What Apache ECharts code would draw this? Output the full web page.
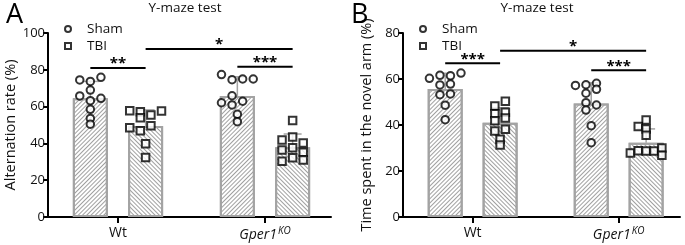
<!DOCTYPE html>
<html>
<head>
<meta charset="utf-8">
<script src="https://cdn.jsdelivr.net/npm/echarts@6/dist/echarts.min.js"></script>
<style>
  html, body { margin: 0; padding: 0; background: #fff; }
  #chart { width: 685px; height: 245px; }
</style>
</head>
<body>
<div id="chart"></div>
<script>
// groups on the x axis (value axis, group i sits at x = i + 1)
const groups = ['Wt', 'Gper1']
const groupX = [1, 2]

// panel A: alternation rate (%)
const aShamMean = [64.5, 65.8]
const aShamSD = [9.2, 10.4]
const aTbiMean = [49.5, 37.9]
const aTbiSD = [8.7, 7.2]
const aShamWt = [74.5, 73.7, 75.9, 69.0, 65.8, 63.2, 64.5, 58.5, 53.6, 50.4]
const aShamWtCol = [-1, 0, 1, 0, -1, 0, 1, 0, 0, 0]
const aTbiWt = [57.8, 57.2, 54.0, 55.4, 57.6, 48.5, 46.9, 49.6, 39.8, 32.4]
const aTbiWtCol = [-1.5, -0.5, -0.5, 0.5, 1.5, -1.5, -0.5, 0.5, 0, 0]
const aShamKo = [77.4, 74.6, 75.0, 75.0, 65.9, 62.1, 60.9, 62.9, 55.8, 51.8]
const aShamKoCol = [-1.5, -0.5, 0.5, 1.5, -0.5, -1.5, -0.5, 0.5, 0, 0]
const aTbiKo = [52.5, 41.8, 43.5, 40.2, 36.4, 37.7, 35.2, 30.3, 32.2, 31.0]
const aTbiKoCol = [0, -1, 0, 1, -1, 0, 1, -1, 0, 1]
// brackets: bar index 0 Wt-Sham, 1 Wt-TBI, 2 KO-Sham, 3 KO-TBI
const aSigPairs = [[0, 1], [1, 3], [2, 3]]
const aSigLevel = [81, 91.3, 81.6]
const aSigText = ['**', '*', '***']

// panel B: time spent in the novel arm (%)
const bShamMean = [55.7, 49.4]
const bShamSD = [6.8, 9.0]
const bTbiMean = [41.0, 32.3]
const bTbiSD = [6.5, 6.0]
const bShamWt = [60.3, 61.6, 61.4, 62.6, 57.4, 57.8, 53.2, 53.5, 48.6, 42.3]
const bShamWtCol = [-1.5, -0.5, 0.5, 1.5, -0.5, 0.5, -0.5, 0.5, 0, 0]
const bTbiWt = [48.3, 50.3, 44.9, 45.5, 41.9, 43.0, 37.4, 38.1, 33.8, 31.3]
const bTbiWtCol = [-0.5, 0.5, -0.5, 0.5, -0.5, 0.5, -0.5, 0.5, 0, 0]
const bShamKo = [57.2, 57.5, 58.1, 53.8, 55.5, 49.7, 48.7, 46.5, 39.7, 32.3]
const bShamKoCol = [-1.5, -0.5, 0.5, -0.5, 0.5, -0.5, 0.5, -0.5, 0, 0]
const bTbiKo = [42.2, 39.3, 38.3, 35.5, 27.8, 28.8, 28.7, 28.7, 30.0, 26.8]
const bTbiKoCol = [0, -0.75, 0, 0, -1.5, -0.75, 0, 0.75, 1.5, 1.5]
const bSigPairs = [[0, 1], [1, 3], [2, 3]]
const bSigLevel = [66.8, 72.3, 63.8]
const bSigText = ['***', '*', '***']

const FONT = 'Open Sans'
const BAR_OFF = 0.188   // half distance between Sham and TBI bar in a group
const COL_STEP = 0.072  // dot column spacing
const GRAY = '#a3a3a3'
const INK = '#111'

const hatchSham = { symbol: 'rect', symbolSize: 1, dashArrayX: [1, 0], dashArrayY: [1, 2], rotation: -Math.PI / 4, color: '#a0a0a0' }
const hatchTbi = { symbol: 'rect', symbolSize: 1, dashArrayX: [1, 0], dashArrayY: [1, 2], rotation: Math.PI / 4, color: '#a0a0a0' }

function barX(i) { return groupX[i >> 1] + (i % 2 ? BAR_OFF : -BAR_OFF) }

function dots(vals, cols, gi, side) {
  return vals.map((v, i) => [groupX[gi] + side * BAR_OFF + cols[i] * COL_STEP, v])
}

function panel(p, shamMean, shamSD, tbiMean, tbiSD, pts, sigPairs, sigLevel, sigText) {
  const ax = { xAxisIndex: p, yAxisIndex: p }
  const bars = [
    Object.assign({
      type: 'bar', name: 'Sham-bar', barWidth: 35, z: 2,
      data: shamMean.map((v, i) => [groupX[i] - BAR_OFF, v]),
      itemStyle: { color: '#fff', borderColor: GRAY, borderWidth: 2, decal: hatchSham }
    }, ax),
    Object.assign({
      type: 'bar', name: 'TBI-bar', barWidth: 35, barGap: '-100%', z: 2,
      data: tbiMean.map((v, i) => [groupX[i] + BAR_OFF, v]),
      itemStyle: { color: '#fff', borderColor: GRAY, borderWidth: 2, decal: hatchTbi }
    }, ax)
  ]
  const errData = []
  shamMean.forEach((m, i) => errData.push([groupX[i] - BAR_OFF, m, m + shamSD[i]]))
  tbiMean.forEach((m, i) => errData.push([groupX[i] + BAR_OFF, m, m + tbiSD[i]]))
  const err = Object.assign({
    type: 'custom', z: 3, silent: true,
    data: errData,
    renderItem: (params, api) => {
      const a = api.coord([api.value(0), api.value(1)])
      const b = api.coord([api.value(0), api.value(2)])
      const st = { stroke: GRAY, lineWidth: 1.5 }
      return { type: 'group', children: [
        { type: 'line', shape: { x1: a[0], y1: a[1], x2: b[0], y2: b[1] }, style: st },
        { type: 'line', shape: { x1: b[0] - 9, y1: b[1], x2: b[0] + 9, y2: b[1] }, style: st }
      ] }
    }
  }, ax)
  const dotStyle = { color: '#fff', borderColor: '#000', borderWidth: 2 }
  const scat = [
    Object.assign({ type: 'scatter', name: 'Sham', symbol: 'circle', symbolSize: 7.5, z: 4,
      data: pts[0].concat(pts[2]), itemStyle: dotStyle }, ax),
    Object.assign({ type: 'scatter', name: 'TBI', symbol: 'rect', symbolSize: 7.5, z: 4,
      data: pts[1].concat(pts[3]), itemStyle: dotStyle }, ax)
  ]
  const sig = Object.assign({
    type: 'custom', z: 5, silent: true,
    data: sigPairs.map((pr, i) => [barX(pr[0]), barX(pr[1]), sigLevel[i]]),
    renderItem: (params, api) => {
      const a = api.coord([api.value(0), api.value(2)])
      const b = api.coord([api.value(1), api.value(2)])
      return { type: 'group', children: [
        { type: 'line', shape: { x1: a[0], y1: a[1], x2: b[0], y2: b[1] }, style: { stroke: '#000', lineWidth: 2 } },
        { type: 'text', x: (a[0] + b[0]) / 2, y: a[1] - 4,
          style: { text: sigText[params.dataIndex], fill: '#000', font: 'bold 15px ' + FONT, textAlign: 'center', textVerticalAlign: 'middle' } }
      ] }
    }
  }, ax)
  return bars.concat([err], scat, [sig])
}

const chart = echarts.init(document.getElementById('chart'))

function xAxis(p, min, max) {
  return {
    type: 'value', gridIndex: p, min, max,
    axisLine: { show: true, onZero: false, lineStyle: { color: '#000', width: 2 } },
    axisTick: { show: true, customValues: groupX, length: 6, lineStyle: { color: '#000', width: 2 } },
    splitLine: { show: false },
    axisLabel: {
      customValues: groupX, margin: 9, color: INK, fontFamily: FONT, fontSize: 14,
      formatter: v => v === 1 ? '{n|Wt}' : '{i|Gper1}{s|KO}',
      rich: {
        n: { fontFamily: FONT, fontSize: 14, color: INK },
        i: { fontFamily: FONT, fontSize: 14, fontStyle: 'italic', color: INK },
        s: { fontFamily: FONT, fontSize: 10, fontStyle: 'italic', color: INK, padding: [0, 0, 8, 1] }
      }
    }
  }
}

function yAxis(p, max, name) {
  return {
    type: 'value', gridIndex: p, min: 0, max, interval: 20,
    name, nameLocation: 'middle', nameGap: 29,
    nameTextStyle: { fontFamily: FONT, fontSize: 14.5, color: INK },
    axisLine: { show: true, lineStyle: { color: '#000', width: 2 } },
    axisTick: { show: true, length: 5, lineStyle: { color: '#000', width: 2 } },
    splitLine: { show: false },
    axisLabel: { margin: 3, color: INK, fontFamily: FONT, fontSize: 13 }
  }
}

function legend(left) {
  return {
    left, top: 17, orient: 'vertical', itemWidth: 6, itemHeight: 6, itemGap: 3,
    data: ['Sham', 'TBI'], selectedMode: false,
    itemStyle: { color: '#fff', borderColor: '#000', borderWidth: 2 },
    textStyle: { fontFamily: FONT, fontSize: 13.5, color: INK, padding: [0, 0, 0, 11] }
  }
}

chart.setOption({
  animation: false,
  textStyle: { fontFamily: FONT },
  title: [
    { text: 'A', left: 1, top: -3, textStyle: { fontFamily: FONT, fontSize: 27, fontWeight: 'normal', color: '#000' } },
    { text: 'B', left: 346, top: -3, textStyle: { fontFamily: FONT, fontSize: 27, fontWeight: 'normal', color: '#000' } },
    { text: 'Y-maze test', left: 180, top: -4, textAlign: 'center', textStyle: { fontFamily: FONT, fontSize: 13.5, fontWeight: 'normal', color: INK } },
    { text: 'Y-maze test', left: 532, top: -4, textAlign: 'center', textStyle: { fontFamily: FONT, fontSize: 13.5, fontWeight: 'normal', color: INK } }
  ],
  legend: [legend(59), legend(414)],
  grid: [
    { left: 48, top: 33, width: 283, bottom: 28 },
    { left: 403, top: 33, width: 277, bottom: 28 }
  ],
  xAxis: [xAxis(0, 0.524, 2.449), xAxis(1, 0.523, 2.420)],
  yAxis: [yAxis(0, 100, 'Alternation rate (%)'), yAxis(1, 80, 'Time spent in the novel arm (%)')],
  series: [].concat(
    panel(0, aShamMean, aShamSD, aTbiMean, aTbiSD,
      [dots(aShamWt, aShamWtCol, 0, -1), dots(aTbiWt, aTbiWtCol, 0, 1), dots(aShamKo, aShamKoCol, 1, -1), dots(aTbiKo, aTbiKoCol, 1, 1)],
      aSigPairs, aSigLevel, aSigText),
    panel(1, bShamMean, bShamSD, bTbiMean, bTbiSD,
      [dots(bShamWt, bShamWtCol, 0, -1), dots(bTbiWt, bTbiWtCol, 0, 1), dots(bShamKo, bShamKoCol, 1, -1), dots(bTbiKo, bTbiKoCol, 1, 1)],
      bSigPairs, bSigLevel, bSigText)
  )
})
</script>
</body>
</html>
